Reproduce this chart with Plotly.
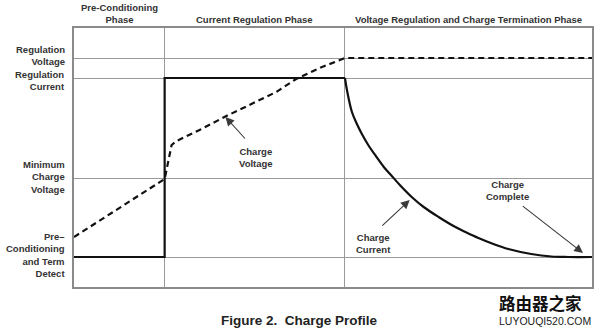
import plotly.graph_objects as go

# ---- data (time units / level units) ----
phase_bounds = [0, 91, 272, 520]
phase_names = ["Pre-Conditioning<br>Phase", "Current Regulation Phase",
               "Voltage Regulation and Charge Termination Phase"]

level_vals = [30, 109, 209, 229]
level_text = ["Pre–<br>Conditioning<br>and Term<br>Detect",
              "Minimum<br>Charge<br>Voltage",
              "Regulation<br>Current",
              "Regulation<br>Voltage"]

# charge current: pre-conditioning + constant-current step, then taper
current_step_t = [0, 91, 91, 272]
current_step_v = [30, 30, 209, 209]
current_taper_t = [272, 274, 279, 284, 289, 296, 303, 311, 319, 329, 339, 351, 366,
                   381, 393, 406, 421, 436, 459, 479, 496, 520]
current_taper_v = [209, 197, 175, 163, 153, 141, 131, 120, 111, 100, 90, 80, 70,
                   61, 55, 49, 43, 38, 33, 30.5, 30, 30]

voltage_t = [0, 91, 98, 103, 126, 151, 176, 203, 223, 249, 272, 520]
voltage_v = [50, 108, 142, 146, 157, 170, 182, 195, 208, 220, 229, 229]

notes = [
    # text, text_x, text_y, arrow tail x, tail y, head x, head y
    ("Charge<br>Voltage", 183, 130, 173, 147, 152, 170),
    ("Charge<br>Current", 301, 44, 308, 60, 337, 87),
    ("Charge<br>Complete", 435, 97, 449, 82, 511, 34),
]

title_text = "Figure 2.\u00a0 Charge Profile"
mark_cn = "路由器之家"
mark_en = "LUYOUQI520.COM"

FONT = "Liberation Sans, Arial, sans-serif"
TXT = "#333333"
GRID = "#9a9a9a"
W, H = 600, 333
ML, MR, MT, MB = 74, 6, 28, 46
PW = W - ML - MR

fig = go.Figure()

fig.add_trace(go.Scatter(x=voltage_t, y=voltage_v, mode="lines",
                         line=dict(color="#111111", width=2.2, dash="6px,4px"),
                         hoverinfo="skip"))
fig.add_trace(go.Scatter(x=current_step_t, y=current_step_v, mode="lines",
                         line=dict(color="#111111", width=2.2), hoverinfo="skip"))
fig.add_trace(go.Scatter(x=current_taper_t, y=current_taper_v, mode="lines",
                         line=dict(color="#111111", width=2.2), line_shape="spline",
                         hoverinfo="skip"))

annotations = []
# phase headers
for i, name in enumerate(phase_names):
    cx = (phase_bounds[i] + phase_bounds[i + 1]) / 2
    annotations.append(dict(x=cx, y=1, xref="x", yref="paper", text="<b>%s</b>" % name,
                            showarrow=False, yanchor="bottom", yshift=1,
                            font=dict(family=FONT, size=9.5, color=TXT),
                            align="center"))
# level labels on the left
label_shift = [2.5, 1, -2.5, 2.5]
for v, t, s in zip(level_vals, level_text, label_shift):
    annotations.append(dict(x=0, y=v, xref="paper", yref="y", text="<b>%s</b>" % t,
                            showarrow=False, xanchor="right", yanchor="middle",
                            xshift=-8, yshift=s, align="right", borderpad=0,
                            font=dict(family=FONT, size=9.5, color=TXT)))
# callouts
for txt, tx, ty, ax_, ay_, hx, hy in notes:
    annotations.append(dict(x=tx, y=ty, xref="x", yref="y", text="<b>%s</b>" % txt,
                            showarrow=False, align="center",
                            font=dict(family=FONT, size=9.5, color=TXT)))
    annotations.append(dict(x=hx, y=hy, xref="x", yref="y", ax=ax_, ay=ay_,
                            axref="x", ayref="y", text="", showarrow=True,
                            arrowhead=2, arrowsize=1.6, arrowwidth=1.1,
                            arrowcolor="#3a3a3a"))
# caption and watermark
annotations.append(dict(x=(W / 2 - ML) / PW, y=0, xref="paper", yref="paper",
                        text="<b>%s</b>" % title_text,
                        showarrow=False, xanchor="center", yanchor="middle", yshift=-33,
                        font=dict(family=FONT, size=13.5, color="#222222")))
annotations.append(dict(x=1, y=0, xref="paper", yref="paper", text="<b>%s</b>" % mark_cn,
                        showarrow=False, xanchor="right", yanchor="middle", yshift=-16, xshift=-9,
                        borderpad=0,
                        font=dict(family="Noto Sans CJK SC", size=16.5, color="#111111")))
annotations.append(dict(x=1, y=0, xref="paper", yref="paper", text=mark_en,
                        showarrow=False, xanchor="right", yanchor="middle", yshift=-34, xshift=0,
                        borderpad=0,
                        font=dict(family=FONT, size=10.5, color="#222222")))

fig.update_layout(
    width=W, height=H,
    margin=dict(l=ML, r=MR, t=MT, b=MB),
    paper_bgcolor="white", plot_bgcolor="white",
    showlegend=False,
    annotations=annotations,
    xaxis=dict(range=[phase_bounds[0], phase_bounds[-1]], tickvals=phase_bounds[1:-1],
               showticklabels=False, ticks="", showgrid=True, gridcolor=GRID, gridwidth=1,
               zeroline=False, showline=True, mirror=True, linecolor="#8a8a8a", linewidth=1.5,
               fixedrange=True),
    yaxis=dict(range=[0, 259], tickvals=level_vals, showticklabels=False, ticks="",
               showgrid=True, gridcolor=GRID, gridwidth=1, zeroline=False,
               showline=True, mirror=True, linecolor="#8a8a8a", linewidth=1.5, fixedrange=True),
)

fig.write_html("out.html")
